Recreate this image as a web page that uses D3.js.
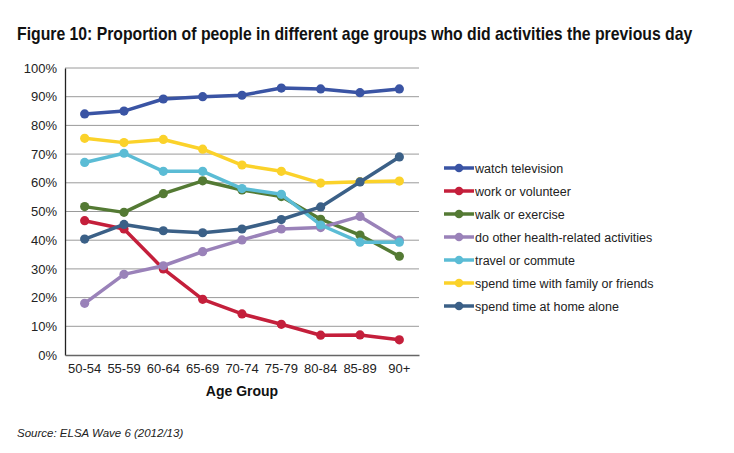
<!DOCTYPE html>
<html><head><meta charset="utf-8">
<script src="https://cdn.jsdelivr.net/npm/d3@7"></script>
<style>body{margin:0;background:#fff;} svg{display:block;font-family:"Liberation Sans",Arial,sans-serif;}</style>
</head><body>
<svg id="chart" width="734" height="453"></svg>
<script>
const categories = ["50-54","55-59","60-64","65-69","70-74","75-79","80-84","85-89","90+"];
const seriesNames = ["watch television","work or volunteer","walk or exercise","do other health-related activities","travel or commute","spend time with family or friends","spend time at home alone"];
const watchTV   = [84, 85, 89.2, 90, 90.5, 93, 92.7, 91.4, 92.7];
const work      = [46.8, 43.9, 30, 19.4, 14.3, 10.7, 6.9, 7, 5.3];
const walk      = [51.7, 49.7, 56.2, 60.7, 57.5, 55.2, 47.3, 41.8, 34.4];
const health    = [18, 28.1, 31.1, 36, 40.1, 43.9, 44.4, 48.3, 40];
const travel    = [67.1, 70.3, 64, 64, 58, 56, 45.3, 39.3, 39.3];
const family    = [75.5, 74, 75.1, 71.7, 66.2, 64, 59.9, 60.4, 60.6];
const homeAlone = [40.4, 45.5, 43.3, 42.6, 43.9, 47.2, 51.6, 60.3, 69];
const colors = ["#3a54a4","#c41f3b","#547a34","#9a82b9","#5bbcd5","#fbd22a","#3b6087"];
const yTicks = [0,10,20,30,40,50,60,70,80,90,100];
const allSeries = [watchTV, work, walk, health, travel, family, homeAlone];

const svg = d3.select("#chart");
const pLeft = 65, pRight = 419, pTop = 68, pBottom = 355;
const x = d3.scaleBand().domain(categories).range([pLeft, pRight]);
const y = d3.scaleLinear().domain([0,100]).range([pBottom, pTop]);

const title = svg.append("text").attr("x",0).attr("y",0)
  .attr("font-family","'Liberation Sans Narrow','Liberation Sans',Arial,sans-serif")
  .attr("font-weight","bold").attr("font-size",18).attr("fill","#111")
  .text("Figure 10: Proportion of people in different age groups who did activities the previous day");
const tw = title.node().getComputedTextLength();
title.attr("transform",`translate(17,40) scale(${676/tw},1)`);

// gridlines
svg.append("g").selectAll("line").data(yTicks.filter(d=>d>0)).join("line")
  .attr("x1",pLeft).attr("x2",pRight).attr("y1",d=>y(d)).attr("y2",d=>y(d))
  .attr("stroke","#9a9a9a").attr("stroke-width",1);

// y axis
const yAxis = svg.append("g").attr("transform",`translate(${pLeft},0)`)
  .call(d3.axisLeft(y).tickValues(yTicks).tickFormat(d=>d+"%").tickSize(0).tickPadding(8));
yAxis.select(".domain").attr("stroke","#222").attr("stroke-width",1.3);
yAxis.selectAll("text").attr("font-size",13).attr("fill","#222").attr("font-family","'Liberation Sans',Arial,sans-serif");

// x axis
const xAxis = svg.append("g").attr("transform",`translate(0,${pBottom})`)
  .call(d3.axisBottom(x).tickSize(0).tickPadding(9));
xAxis.select(".domain").attr("stroke","#666").attr("stroke-width",1.5);
xAxis.selectAll("text").attr("font-size",13).attr("fill","#222").attr("font-family","'Liberation Sans',Arial,sans-serif");

svg.append("text").attr("x",242).attr("y",396).attr("text-anchor","middle")
  .attr("font-weight","bold").attr("font-size",14).attr("fill","#111").text("Age Group");

const line = d3.line().x((d,i)=>x(categories[i])+x.bandwidth()/2).y(d=>y(d));
allSeries.forEach((s,k)=>{
  const g = svg.append("g");
  g.append("path").datum(s).attr("d",line).attr("fill","none")
    .attr("stroke",colors[k]).attr("stroke-width",3.5).attr("stroke-linejoin","round");
  g.selectAll("circle").data(s).join("circle")
    .attr("cx",(d,i)=>x(categories[i])+x.bandwidth()/2).attr("cy",d=>y(d))
    .attr("r",4.6).attr("fill",colors[k]);
});

// legend
const lg = svg.append("g");
seriesNames.forEach((n,k)=>{
  const ly = 168 + k*23;
  lg.append("line").attr("x1",444).attr("x2",474).attr("y1",ly).attr("y2",ly)
    .attr("stroke",colors[k]).attr("stroke-width",3.5);
  lg.append("circle").attr("cx",459).attr("cy",ly).attr("r",4.3).attr("fill",colors[k]);
  lg.append("text").attr("x",475).attr("y",ly+5).attr("font-size",12.5).attr("fill","#222").text(n);
});

svg.append("text").attr("x",17).attr("y",437).attr("font-style","italic")
  .attr("font-size",11.5).attr("fill","#222").text("Source: ELSA Wave 6 (2012/13)");
</script>
</body></html>
